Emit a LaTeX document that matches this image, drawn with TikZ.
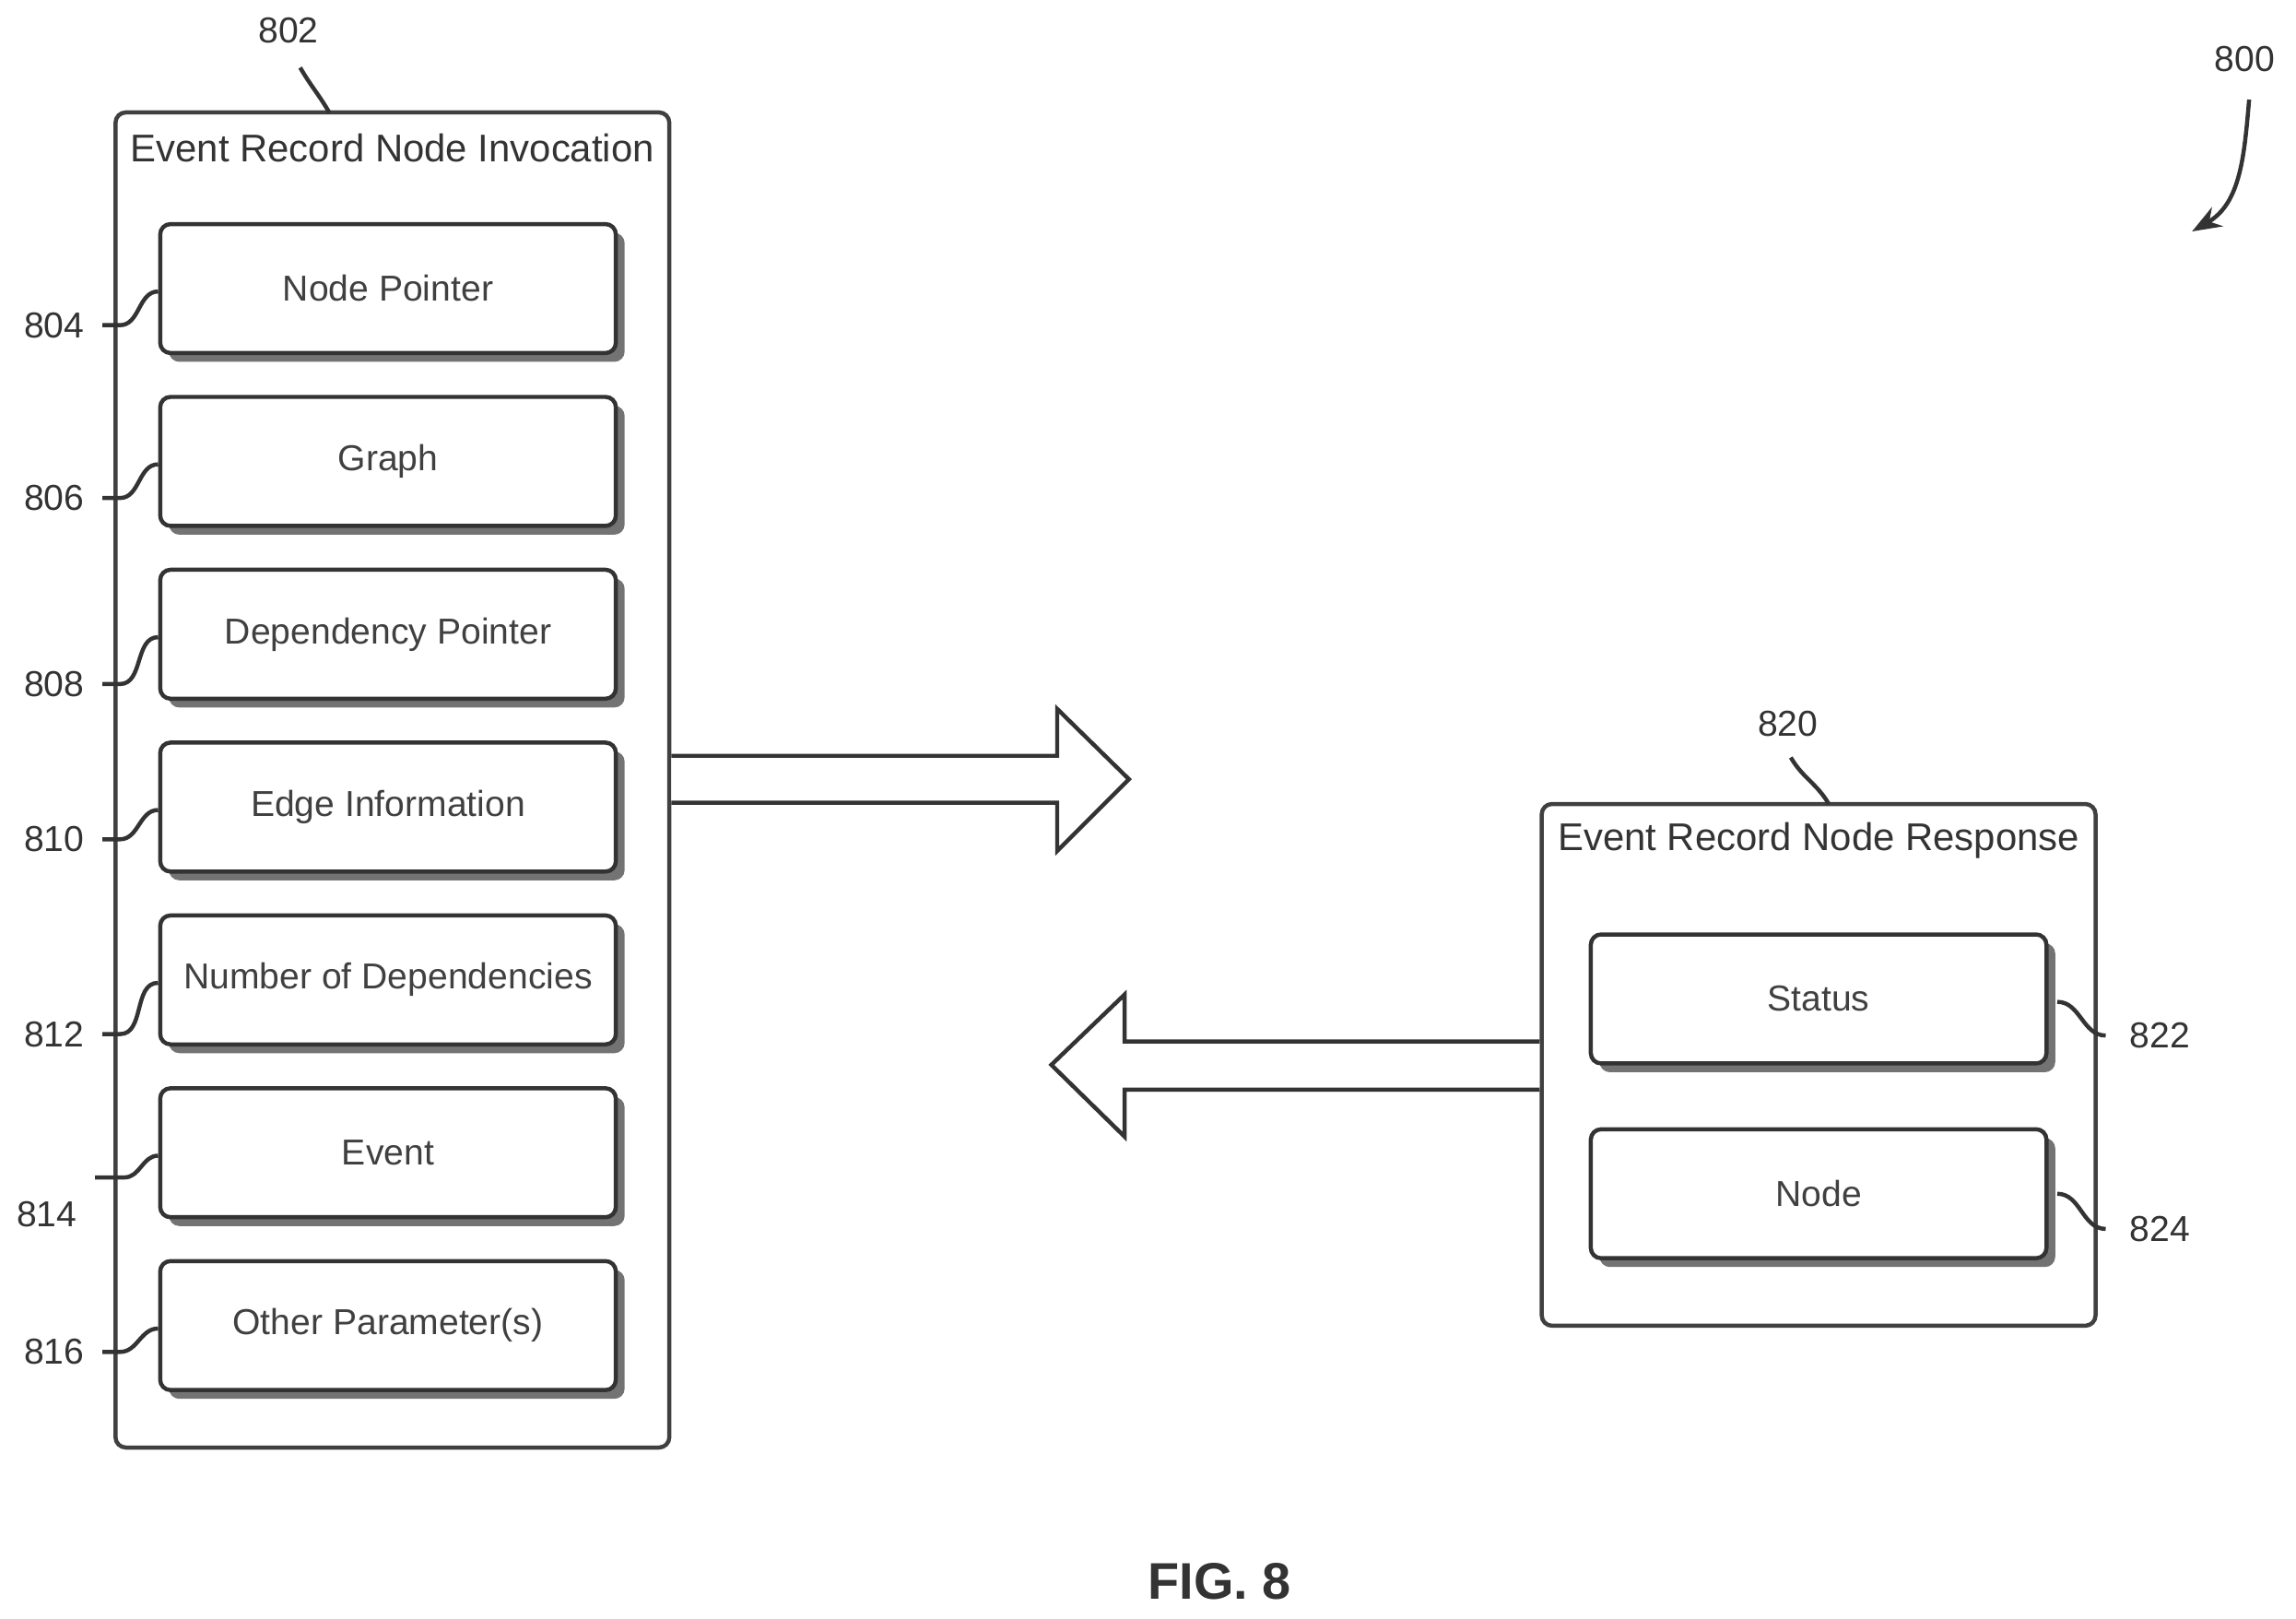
\documentclass[tikz,border=0pt]{standalone}
\usepackage{fontspec}
\setmainfont{Liberation Sans}
\usetikzlibrary{positioning}
\usetikzlibrary{arrows.meta}
\usetikzlibrary{shadows}
\tikzset{
  field/.style={rectangle, rounded corners=2pt, draw=black!80, thick, fill=white, minimum width=3.11cm, minimum height=0.88cm,
    font=\fontsize{7}{8}\selectfont, text=black!75,
    drop shadow={shadow xshift=0.06cm, shadow yshift=-0.06cm, fill=black!55, opacity=1}},
  frame/.style={rectangle, rounded corners=2pt, draw=black!75, thick},
  ref/.style={font=\fontsize{7}{8}\selectfont, text=black!80},
  lead/.style={draw=black!80, thick}
}
\begin{document}
\begin{tikzpicture}[x=0.01cm, y=-0.01cm]
    \useasboundingbox (0,0) rectangle (1568,1105);

    % invocation
    \node (inv) [frame, minimum width=3.78cm, minimum height=9.11cm] at (268,532.5) {};
    \node (invtitle) [ref, font=\fontsize{7.5}{9}\selectfont] at (268,101) {Event Record Node Invocation};
    \node (b804) [field] at (265,197) {Node Pointer};
    \node (b806) [field] at (265,315) {Graph};
    \node (b808) [field] at (265,433) {Dependency Pointer};
    \node (b810) [field] at (265,551) {Edge Information};
    \node (b812) [field] at (265,669) {Number of Dependencies};
    \node (b814) [field] at (265,787) {Event};
    \node (b816) [field] at (265,905) {Other Parameter(s)};

    \node (l802) [ref] at (197,21) {802};
    \node (l804) [ref] at (37,222) {804};
    \node (l806) [ref] at (37,340) {806};
    \node (l808) [ref] at (37,467) {808};
    \node (l810) [ref] at (37,573) {810};
    \node (l812) [ref] at (37,706) {812};
    \node (l814) [ref] at (32,829) {814};
    \node (l816) [ref] at (37,923) {816};

    \draw [lead] (l802.south) ++(8,4) to[out=-60,in=120] (225,77);
    \foreach \n in {804,806,808,810,812,816}
      \draw [lead] (l\n.east) -- ++(12,0) to[out=0,in=180] ([yshift=-0.02cm]b\n.west);
    \draw [lead] (l814.north east) ++(0,-4) -- ++(20,0) to[out=0,in=180] ([yshift=-0.02cm]b814.west);

    % response
    \node (resp) [frame, minimum width=3.78cm, minimum height=3.56cm] at (1242,727) {};
    \node (resptitle) [ref, font=\fontsize{7.5}{9}\selectfont] at (1242,574) {Event Record Node Response};
    \node (b822) [field] at (1242,682) {Status};
    \node (b824) [field] at (1242,815) {Node};
    \node (l820) [ref] at (1221,494) {820};
    \node (l822) [ref] at (1475,707) {822};
    \node (l824) [ref] at (1475,839) {824};
    \draw [lead] (l820.south) ++(2,2) to[out=-60,in=120] (1249,549);
    \draw [lead] ([xshift=0.06cm]b822.east) ++(0,2) to[out=0,in=180] ([xshift=-0.04cm]l822.west);
    \draw [lead] ([xshift=0.06cm]b824.east) ++(0,0) to[out=0,in=180] ([xshift=-0.04cm]l824.west);

    % big arrows
    \draw [thick, black!80, fill=white] (inv.east |- 0,516) -- (722,516) -- (722,484) -- (771,532) -- (722,581) -- (722,548) -- (inv.east |- 0,548);
    \draw [thick, black!80, fill=white] (resp.west |- 0,711) -- (768,711) -- (768,679) -- (718,727) -- (768,776) -- (768,744) -- (resp.west |- 0,744);

    % figure ref
    \node (l800) [ref] at (1533,40) {800};
    \coordinate (a800) at (1497,158);
    \draw [thick, black!80, -{Stealth[length=0.2cm,width=0.15cm]}] (1536,68) to[out=-95,in=30] (a800);

    \node (fig) [font=\bfseries\fontsize{10}{12}\selectfont, text=black!80] at (833,1080) {FIG. 8};
\end{tikzpicture}
\end{document}
